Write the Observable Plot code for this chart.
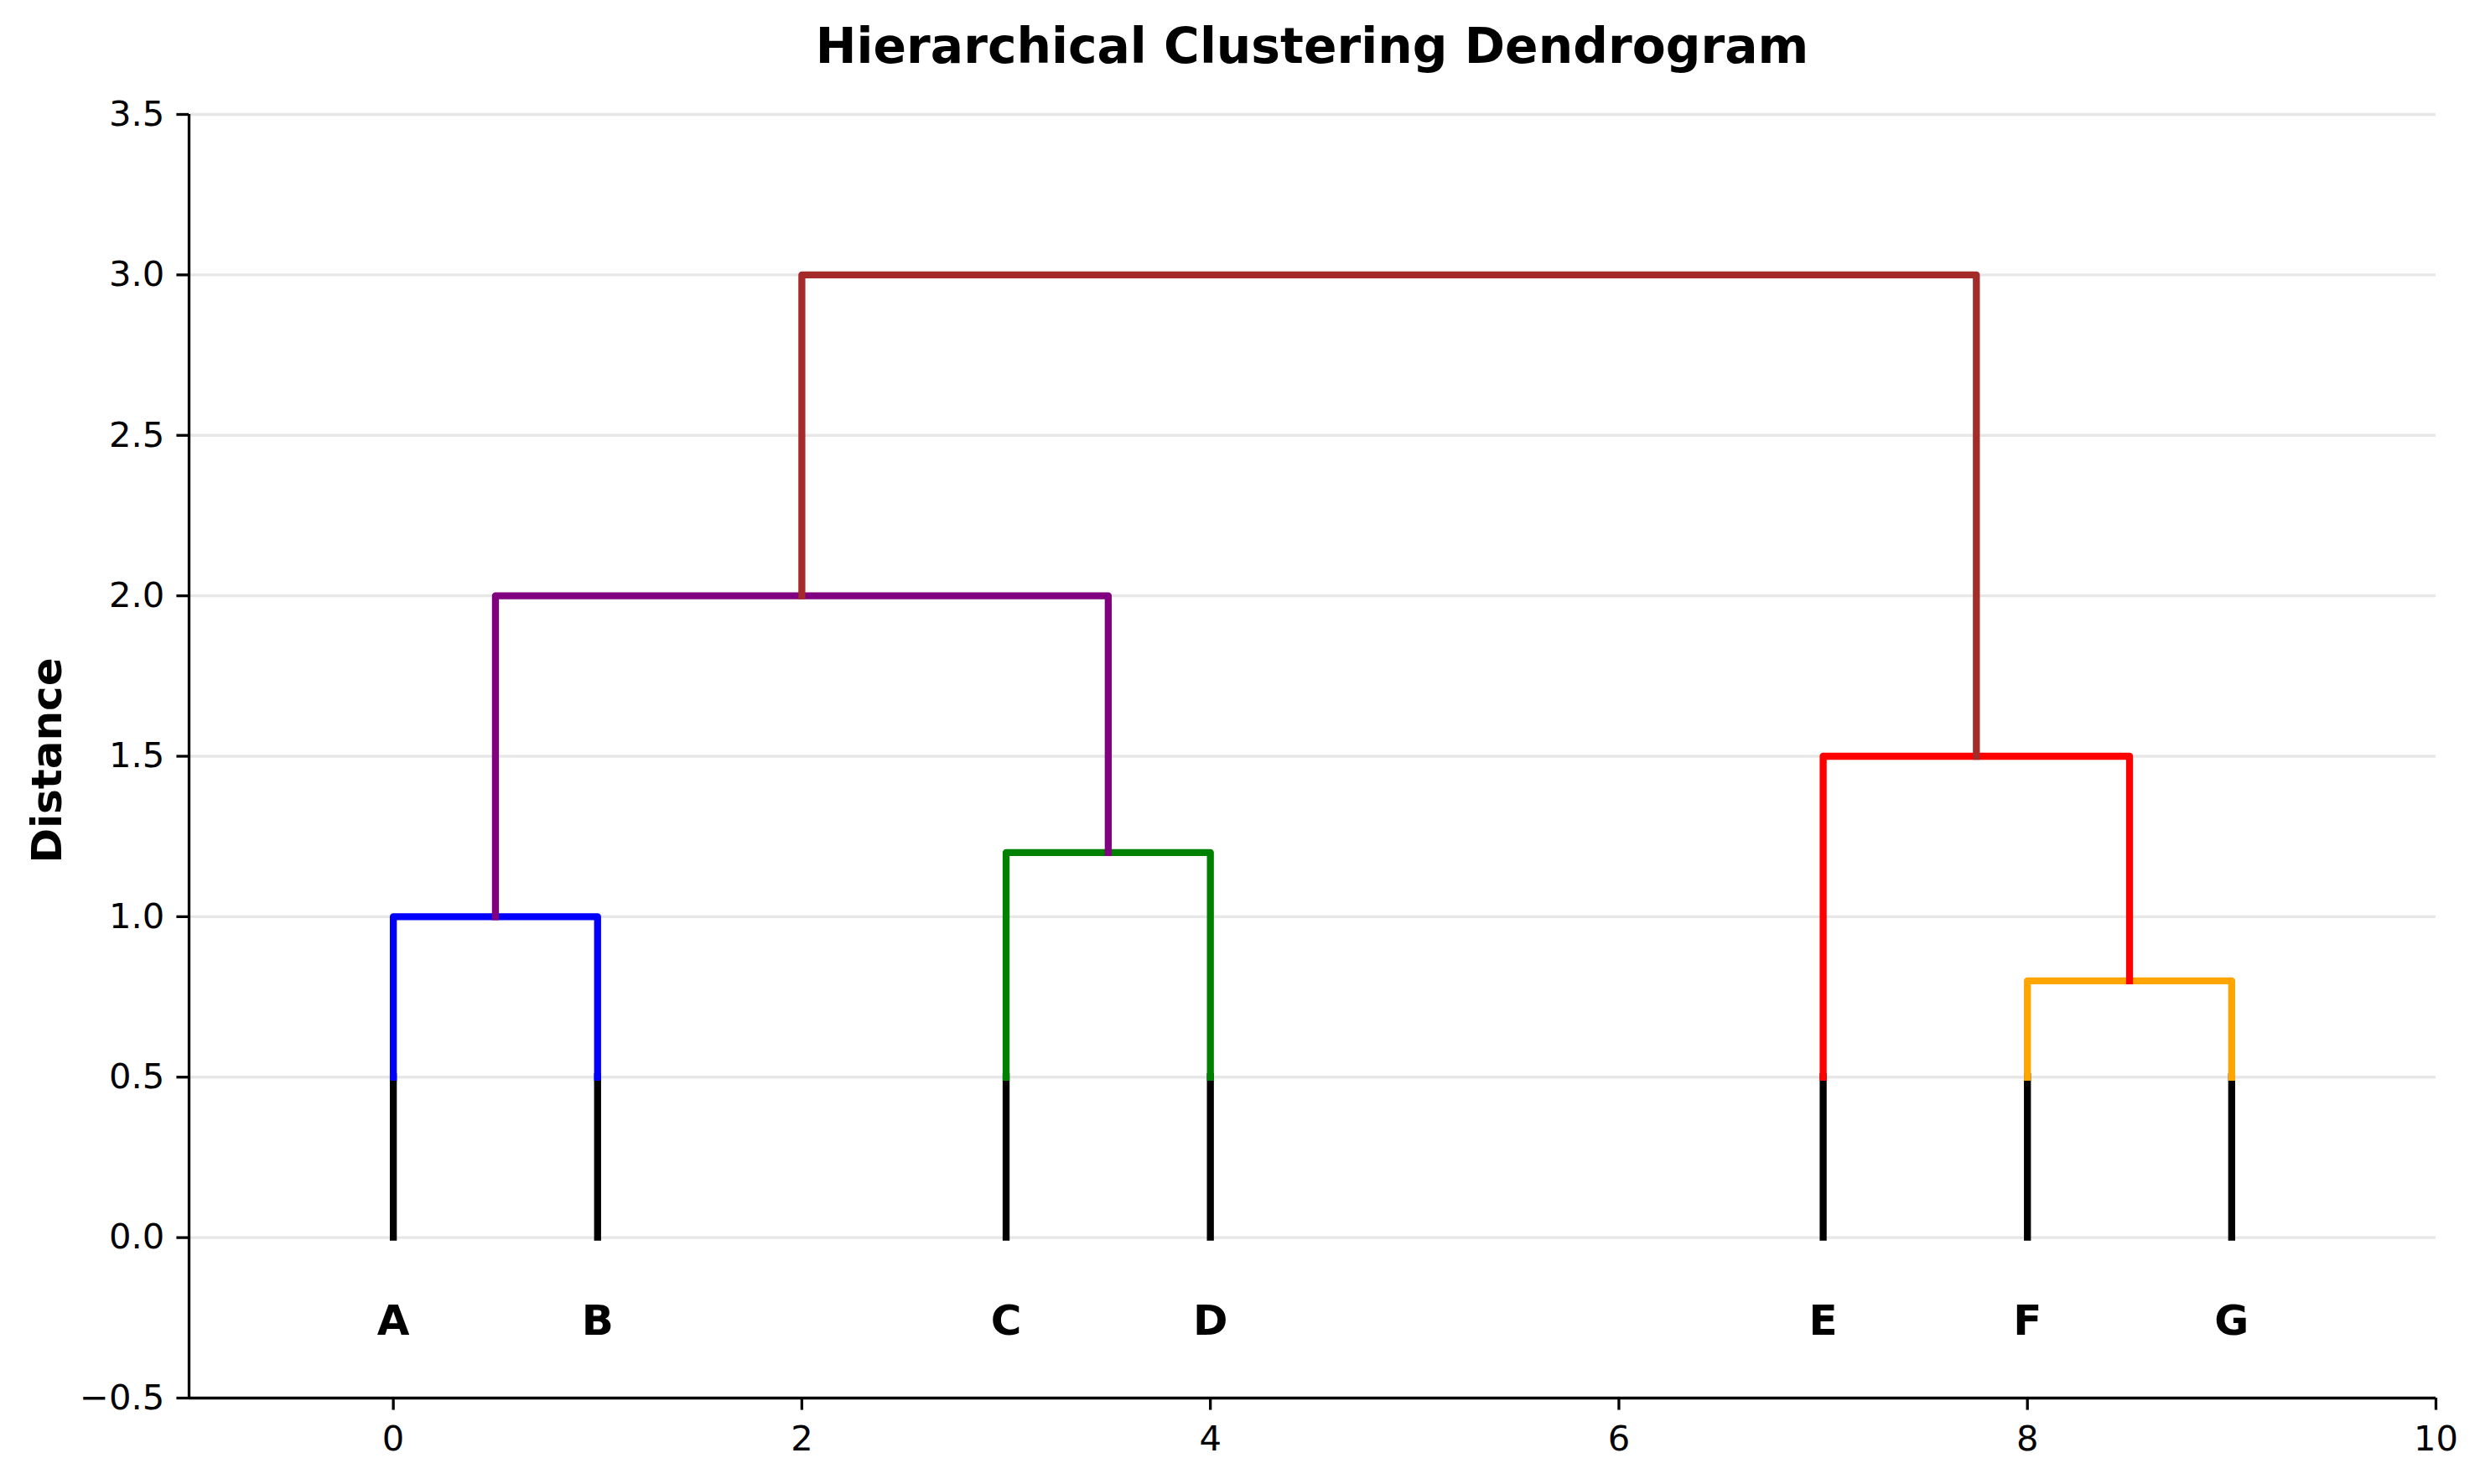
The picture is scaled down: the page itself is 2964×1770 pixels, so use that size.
<!DOCTYPE html>
<html>
<head>
<meta charset="utf-8">
<script src="https://cdn.jsdelivr.net/npm/d3@7"></script>
<script src="https://cdn.jsdelivr.net/npm/@observablehq/plot@0.6"></script>
<style>
  html, body { margin: 0; padding: 0; background: #ffffff; }
  #title {
    position: relative;
    margin-left: 225px;
    width: 2680px;
    height: 110px;
    line-height: 110px;
    text-align: center;
    font-family: "DejaVu Sans", sans-serif;
    font-weight: bold;
    font-size: 58.3px;
    color: #000;
    white-space: nowrap;
  }
  #chart svg { display: block; }
</style>
</head>
<body>
<div id="title">Hierarchical Clustering Dendrogram</div>
<div id="chart"></div>
<script>
// ---- data ----
const leafLabels = ["A", "B", "C", "D", "E", "F", "G"];
const leafX = [0, 1, 3, 4, 7, 8, 9];
const leafBottom = 0;
const leafTop = 0.5;
const labelY = -0.25;

// merges (drawn in this order)
const mergeLeftX   = [0,   3,   8,   7,   0.5, 2];
const mergeLeftY   = [0.5, 0.5, 0.5, 0.5, 1.0, 2.0];
const mergeHeight  = [1.0, 1.2, 0.8, 1.5, 2.0, 3.0];
const mergeRightX  = [1,   4,   9,   8.5, 3.5, 7.75];
const mergeRightY  = [0.5, 0.5, 0.5, 0.8, 1.2, 1.5];
const mergeColor   = ["blue", "green", "orange", "red", "purple", "brown"];

const xTicks = [0, 2, 4, 6, 8, 10];
const yTicks = [-0.5, 0.0, 0.5, 1.0, 1.5, 2.0, 2.5, 3.0, 3.5];
const xDomain = [-1, 10];
const yDomain = [-0.5, 3.5];

// ---- build line table from the arrays ----
const segs = [];
mergeColor.forEach((c, i) => {
  segs.push({id: i, color: c, x: mergeLeftX[i],  y: mergeLeftY[i]});
  segs.push({id: i, color: c, x: mergeLeftX[i],  y: mergeHeight[i]});
  segs.push({id: i, color: c, x: mergeRightX[i], y: mergeHeight[i]});
  segs.push({id: i, color: c, x: mergeRightX[i], y: mergeRightY[i]});
});
const leaves = leafLabels.map((l, i) => ({label: l, x: leafX[i]}));

const LW = 8.33;
const fmt = d => d.toFixed(1).replace("-", "\u2212");

const plot = Plot.plot({
  width: 2964,
  height: 1660,
  marginTop: 26,
  marginBottom: 103,
  marginLeft: 225,
  marginRight: 59,
  style: {fontFamily: "'DejaVu Sans', sans-serif", background: "#ffffff", color: "#000"},
  x: {domain: xDomain},
  y: {domain: yDomain},
  color: {type: "identity"},
  marks: [
    Plot.ruleY(yTicks.filter(t => t > yDomain[0]), {stroke: "#e7e7e7", strokeWidth: 3.3}),
    Plot.ruleX(leaves, {x: "x", y1: leafBottom, y2: leafTop, stroke: "black", strokeWidth: LW, strokeLinecap: "square"}),
    Plot.line(segs, {x: "x", y: "y", z: "id", stroke: "color", strokeWidth: LW, strokeLinejoin: "round", strokeLinecap: "square"}),
    Plot.text(leaves, {x: "x", y: labelY, text: "label", fontSize: 50, fontWeight: "bold", textAnchor: "middle", lineAnchor: "middle", dy: 4, fill: "black"}),
    Plot.ruleX([xDomain[0]], {stroke: "black", strokeWidth: 3.3}),
    Plot.ruleY([yDomain[0]], {stroke: "black", strokeWidth: 3.3}),
    Plot.axisY({ticks: yTicks, tickFormat: fmt, tickSize: 14.6, tickPadding: 14.6, fontSize: 41.7, strokeWidth: 3.3, label: null}),
    Plot.axisX({ticks: xTicks, tickFormat: d => String(d), tickSize: 14.6, tickPadding: 18, fontSize: 41.7, strokeWidth: 3.3, label: null}),
    Plot.text(["Distance"], {frameAnchor: "left", text: d => d, rotate: -90, dx: -153, dy: 5, lineAnchor: "bottom", textAnchor: "middle", fontSize: 50, fontWeight: "bold", fill: "black"})
  ]
});
document.getElementById("chart").appendChild(plot);
</script>
</body>
</html>
